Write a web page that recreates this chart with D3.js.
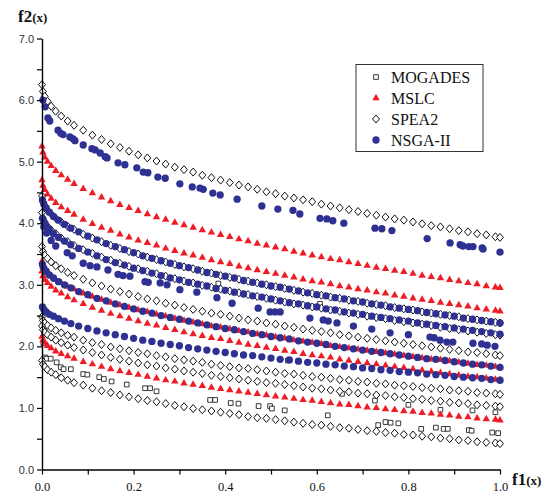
<!DOCTYPE html>
<html lang="en">
  <head>
    <meta charset="utf-8">
    <title>f1(x) - f2(x) fronts</title>
    <style>
      body { margin: 0; background: #fff; }
    </style>
  </head>
  <body>
    <div id="chart"></div>
  </body>
  <script src="https://d3js.org/d3.v7.min.js"></script>
  <script type="text/javascript">
    // legend order = drawing order
    var seriesNames = ["MOGADES", "MSLC", "SPEA2", "NSGA-II"];
    var xTicks = [0, 0.1, 0.2, 0.3, 0.4, 0.5, 0.6, 0.7, 0.8, 0.9, 1.0];
    var yTicks = [0, 0.5, 1, 1.5, 2, 2.5, 3, 3.5, 4, 4.5, 5, 5.5, 6, 6.5, 7];

    // f1 positions of the dense fronts (SPEA2, MSLC)
    var f1Grid = [0, 0.002, 0.006, 0.012, 0.02, 0.03, 0.042, 0.056, 0.07, 0.09,
      0.11, 0.13, 0.15, 0.17, 0.19, 0.21, 0.23, 0.25, 0.27, 0.29,
      0.31, 0.33, 0.35, 0.37, 0.39, 0.41, 0.43, 0.45, 0.47, 0.49,
      0.51, 0.53, 0.55, 0.57, 0.59, 0.61, 0.63, 0.65, 0.67, 0.69,
      0.71, 0.73, 0.75, 0.77, 0.79, 0.81, 0.83, 0.85, 0.87, 0.89,
      0.91, 0.93, 0.95, 0.97, 0.99, 1.0];
    // f1 positions of the dense NSGA-II fronts
    var nsgaGrid = [0.001, 0.004, 0.009, 0.016, 0.025, 0.036, 0.049, 0.063, 0.08, 0.10,
      0.12, 0.14, 0.16, 0.18, 0.20, 0.22, 0.24, 0.26, 0.28, 0.30,
      0.32, 0.34, 0.36, 0.38, 0.40, 0.42, 0.44, 0.46, 0.48, 0.50,
      0.52, 0.54, 0.56, 0.58, 0.60, 0.62, 0.64, 0.66, 0.68, 0.70,
      0.72, 0.74, 0.76, 0.78, 0.80, 0.82, 0.84, 0.86, 0.88, 0.90,
      0.92, 0.94, 0.96, 0.98, 1.0];

    // SPEA2 fronts: f2 at each f1Grid position
    var spea2F2 = [
      [6.25, 6.14, 6.06, 5.98, 5.90, 5.82, 5.74, 5.66, 5.59, 5.51, 5.43, 5.36, 5.29, 5.23, 5.17, 5.11, 5.06, 5.01, 4.96, 4.91, 4.87, 4.83, 4.78, 4.74, 4.70, 4.66, 4.62, 4.59, 4.55, 4.51, 4.48, 4.44, 4.41, 4.38, 4.35, 4.31, 4.28, 4.25, 4.22, 4.19, 4.16, 4.13, 4.10, 4.07, 4.05, 4.02, 3.99, 3.96, 3.94, 3.91, 3.88, 3.86, 3.83, 3.81, 3.78, 3.77],
      [4.44, 4.35, 4.28, 4.21, 4.15, 4.08, 4.02, 3.95, 3.90, 3.82, 3.76, 3.70, 3.64, 3.59, 3.54, 3.50, 3.45, 3.41, 3.37, 3.33, 3.29, 3.26, 3.22, 3.19, 3.15, 3.12, 3.09, 3.06, 3.03, 3.00, 2.97, 2.94, 2.91, 2.88, 2.86, 2.83, 2.80, 2.78, 2.75, 2.73, 2.70, 2.68, 2.66, 2.63, 2.61, 2.59, 2.56, 2.54, 2.52, 2.50, 2.48, 2.45, 2.43, 2.41, 2.39, 2.38],
      [4.17, 4.08, 4.02, 3.95, 3.89, 3.83, 3.76, 3.70, 3.64, 3.57, 3.51, 3.45, 3.40, 3.35, 3.30, 3.26, 3.22, 3.18, 3.14, 3.10, 3.06, 3.03, 2.99, 2.96, 2.93, 2.90, 2.87, 2.84, 2.81, 2.78, 2.75, 2.72, 2.69, 2.67, 2.64, 2.62, 2.59, 2.57, 2.54, 2.52, 2.49, 2.47, 2.45, 2.42, 2.40, 2.38, 2.36, 2.34, 2.31, 2.29, 2.27, 2.25, 2.23, 2.21, 2.19, 2.18],
      [3.62, 3.54, 3.48, 3.43, 3.37, 3.31, 3.26, 3.20, 3.15, 3.09, 3.03, 2.98, 2.93, 2.89, 2.85, 2.81, 2.77, 2.74, 2.70, 2.67, 2.63, 2.60, 2.57, 2.54, 2.52, 2.49, 2.46, 2.43, 2.41, 2.38, 2.36, 2.33, 2.31, 2.28, 2.26, 2.24, 2.22, 2.19, 2.17, 2.15, 2.13, 2.11, 2.09, 2.07, 2.05, 2.03, 2.01, 1.99, 1.97, 1.95, 1.93, 1.91, 1.90, 1.88, 1.86, 1.85],
      [2.48, 2.42, 2.38, 2.34, 2.30, 2.26, 2.22, 2.18, 2.15, 2.10, 2.06, 2.03, 1.99, 1.96, 1.93, 1.90, 1.88, 1.85, 1.83, 1.80, 1.78, 1.76, 1.74, 1.71, 1.69, 1.67, 1.65, 1.64, 1.62, 1.60, 1.58, 1.56, 1.55, 1.53, 1.51, 1.50, 1.48, 1.46, 1.45, 1.43, 1.42, 1.40, 1.39, 1.37, 1.36, 1.35, 1.33, 1.32, 1.31, 1.29, 1.28, 1.27, 1.25, 1.24, 1.23, 1.22],
      [2.33, 2.27, 2.23, 2.19, 2.15, 2.10, 2.06, 2.02, 1.98, 1.94, 1.90, 1.86, 1.82, 1.79, 1.76, 1.73, 1.70, 1.68, 1.65, 1.63, 1.60, 1.58, 1.56, 1.53, 1.51, 1.49, 1.47, 1.45, 1.43, 1.41, 1.40, 1.38, 1.36, 1.34, 1.32, 1.31, 1.29, 1.27, 1.26, 1.24, 1.23, 1.21, 1.20, 1.18, 1.17, 1.15, 1.14, 1.12, 1.11, 1.09, 1.08, 1.07, 1.05, 1.04, 1.03, 1.02],
      [1.77, 1.71, 1.67, 1.62, 1.58, 1.54, 1.49, 1.45, 1.41, 1.37, 1.32, 1.28, 1.25, 1.21, 1.18, 1.15, 1.12, 1.10, 1.07, 1.04, 1.02, 0.99, 0.97, 0.95, 0.93, 0.91, 0.89, 0.86, 0.84, 0.83, 0.81, 0.79, 0.77, 0.75, 0.73, 0.72, 0.70, 0.68, 0.67, 0.65, 0.63, 0.62, 0.60, 0.59, 0.57, 0.56, 0.54, 0.53, 0.51, 0.50, 0.48, 0.47, 0.45, 0.44, 0.43, 0.42]
    ];

    // MSLC fronts: f2 at each f1Grid position
    var mslcF2 = [
      [5.25, 5.15, 5.07, 5.00, 4.93, 4.85, 4.78, 4.71, 4.64, 4.56, 4.49, 4.42, 4.36, 4.30, 4.25, 4.20, 4.15, 4.10, 4.06, 4.01, 3.97, 3.93, 3.89, 3.85, 3.81, 3.78, 3.74, 3.71, 3.67, 3.64, 3.61, 3.58, 3.54, 3.51, 3.48, 3.45, 3.42, 3.40, 3.37, 3.34, 3.31, 3.28, 3.26, 3.23, 3.21, 3.18, 3.15, 3.13, 3.11, 3.08, 3.06, 3.03, 3.01, 2.98, 2.96, 2.95],
      [4.70, 4.61, 4.54, 4.47, 4.40, 4.33, 4.26, 4.20, 4.14, 4.06, 3.99, 3.93, 3.88, 3.82, 3.77, 3.72, 3.68, 3.64, 3.59, 3.55, 3.51, 3.48, 3.44, 3.40, 3.37, 3.34, 3.30, 3.27, 3.24, 3.21, 3.18, 3.15, 3.12, 3.09, 3.06, 3.04, 3.01, 2.98, 2.96, 2.93, 2.91, 2.88, 2.86, 2.83, 2.81, 2.78, 2.76, 2.74, 2.71, 2.69, 2.67, 2.65, 2.62, 2.60, 2.58, 2.57],
      [3.38, 3.30, 3.25, 3.19, 3.14, 3.08, 3.03, 2.97, 2.93, 2.86, 2.81, 2.76, 2.71, 2.67, 2.63, 2.59, 2.56, 2.52, 2.49, 2.45, 2.42, 2.39, 2.36, 2.33, 2.31, 2.28, 2.25, 2.23, 2.20, 2.18, 2.15, 2.13, 2.10, 2.08, 2.06, 2.04, 2.01, 1.99, 1.97, 1.95, 1.93, 1.91, 1.89, 1.87, 1.85, 1.83, 1.81, 1.79, 1.78, 1.76, 1.74, 1.72, 1.70, 1.69, 1.67, 1.66],
      [3.22, 3.14, 3.08, 3.03, 2.97, 2.91, 2.86, 2.80, 2.75, 2.69, 2.63, 2.58, 2.53, 2.49, 2.45, 2.41, 2.37, 2.34, 2.30, 2.27, 2.23, 2.20, 2.17, 2.14, 2.12, 2.09, 2.06, 2.03, 2.01, 1.98, 1.96, 1.93, 1.91, 1.88, 1.86, 1.84, 1.82, 1.79, 1.77, 1.75, 1.73, 1.71, 1.69, 1.67, 1.65, 1.63, 1.61, 1.59, 1.57, 1.55, 1.53, 1.51, 1.50, 1.48, 1.46, 1.45],
      [2.16, 2.10, 2.06, 2.01, 1.97, 1.92, 1.88, 1.84, 1.80, 1.75, 1.71, 1.67, 1.63, 1.60, 1.57, 1.54, 1.51, 1.48, 1.45, 1.43, 1.40, 1.38, 1.36, 1.33, 1.31, 1.29, 1.27, 1.25, 1.23, 1.21, 1.19, 1.17, 1.15, 1.13, 1.12, 1.10, 1.08, 1.06, 1.05, 1.03, 1.01, 1.00, 0.98, 0.97, 0.95, 0.94, 0.92, 0.91, 0.89, 0.88, 0.86, 0.85, 0.83, 0.82, 0.81, 0.80]
    ];

    // NSGA-II dense fronts: f2 at each nsgaGrid position
    var nsgaDenseF2 = [
      [4.38, 4.31, 4.25, 4.18, 4.11, 4.05, 3.98, 3.92, 3.86, 3.79, 3.73, 3.67, 3.62, 3.57, 3.52, 3.47, 3.43, 3.39, 3.35, 3.31, 3.28, 3.24, 3.20, 3.17, 3.14, 3.11, 3.07, 3.04, 3.01, 2.98, 2.96, 2.93, 2.90, 2.87, 2.84, 2.82, 2.79, 2.77, 2.74, 2.72, 2.69, 2.67, 2.64, 2.62, 2.60, 2.58, 2.55, 2.53, 2.51, 2.49, 2.46, 2.44, 2.42, 2.40, 2.38],
      [4.08, 4.02, 3.96, 3.90, 3.83, 3.77, 3.71, 3.65, 3.59, 3.53, 3.47, 3.41, 3.36, 3.32, 3.27, 3.23, 3.19, 3.15, 3.11, 3.08, 3.04, 3.01, 2.98, 2.94, 2.91, 2.88, 2.85, 2.82, 2.80, 2.77, 2.74, 2.71, 2.69, 2.66, 2.64, 2.61, 2.59, 2.56, 2.54, 2.52, 2.49, 2.47, 2.45, 2.43, 2.41, 2.38, 2.36, 2.34, 2.32, 2.30, 2.28, 2.26, 2.24, 2.22, 2.20],
      [3.33, 3.27, 3.22, 3.16, 3.11, 3.05, 3.00, 2.95, 2.89, 2.84, 2.78, 2.74, 2.69, 2.65, 2.61, 2.57, 2.54, 2.50, 2.47, 2.44, 2.41, 2.38, 2.35, 2.32, 2.29, 2.27, 2.24, 2.21, 2.19, 2.16, 2.14, 2.12, 2.09, 2.07, 2.05, 2.03, 2.00, 1.98, 1.96, 1.94, 1.92, 1.90, 1.88, 1.86, 1.84, 1.82, 1.80, 1.79, 1.77, 1.75, 1.73, 1.71, 1.70, 1.68, 1.66],
      [2.64, 2.60, 2.56, 2.52, 2.49, 2.45, 2.41, 2.37, 2.33, 2.29, 2.25, 2.22, 2.19, 2.16, 2.13, 2.10, 2.08, 2.05, 2.03, 2.01, 1.98, 1.96, 1.94, 1.92, 1.90, 1.88, 1.86, 1.85, 1.83, 1.81, 1.79, 1.78, 1.76, 1.74, 1.73, 1.71, 1.70, 1.68, 1.67, 1.65, 1.64, 1.62, 1.61, 1.59, 1.58, 1.57, 1.55, 1.54, 1.53, 1.51, 1.50, 1.49, 1.48, 1.46, 1.45]
    ];

    // NSGA-II sparse fronts: [f1, f2]
    var nsgaTop = [[0.002, 6.00], [0.007, 5.89], [0.013, 5.71], [0.017, 5.66], [0.035, 5.51], [0.041, 5.46],
      [0.046, 5.44], [0.061, 5.40], [0.068, 5.37], [0.072, 5.34], [0.090, 5.27], [0.109, 5.21], [0.116, 5.19],
      [0.127, 5.14], [0.138, 5.08], [0.142, 5.06], [0.166, 4.98], [0.181, 4.95], [0.207, 4.90], [0.221, 4.83],
      [0.231, 4.82], [0.253, 4.75], [0.269, 4.73], [0.301, 4.64], [0.328, 4.59], [0.345, 4.57], [0.352, 4.55],
      [0.373, 4.49], [0.389, 4.46], [0.426, 4.39], [0.480, 4.28], [0.515, 4.23], [0.548, 4.21], [0.563, 4.15],
      [0.607, 4.08], [0.622, 4.07], [0.635, 4.04], [0.659, 4.00], [0.727, 3.92], [0.742, 3.91], [0.764, 3.88],
      [0.841, 3.75], [0.891, 3.68], [0.913, 3.65], [0.919, 3.63], [0.932, 3.62], [0.941, 3.62], [0.961, 3.60],
      [0.963, 3.58], [1.0, 3.53]];
    var nsgaMid = [[0.004, 3.94], [0.010, 3.84], [0.020, 3.72], [0.030, 3.63], [0.055, 3.52], [0.066, 3.47],
      [0.090, 3.35], [0.105, 3.31], [0.120, 3.29], [0.144, 3.24], [0.166, 3.17], [0.177, 3.15], [0.192, 3.14],
      [0.225, 3.05], [0.232, 3.04], [0.258, 3.03], [0.273, 3.00], [0.301, 2.92], [0.338, 2.88], [0.382, 2.79],
      [0.415, 2.70], [0.472, 2.62], [0.498, 2.56], [0.509, 2.56], [0.520, 2.56], [0.585, 2.46], [0.614, 2.43],
      [0.625, 2.41], [0.644, 2.38], [0.680, 2.33], [0.720, 2.28], [0.760, 2.22], [0.800, 2.19], [0.847, 2.15],
      [0.856, 2.14], [0.869, 2.10], [0.884, 2.07], [0.897, 2.07], [0.941, 2.05], [0.960, 2.04], [0.972, 2.02],
      [0.989, 2.00]];

    // MOGADES points: [f1, f2]
    var mogadesPts = [[0.003, 2.05], [0.007, 1.82], [0.010, 1.80], [0.019, 1.80], [0.032, 1.74], [0.041, 1.66],
      [0.047, 1.63], [0.063, 1.63], [0.090, 1.55], [0.099, 1.54], [0.125, 1.50], [0.135, 1.47], [0.152, 1.43],
      [0.185, 1.38], [0.225, 1.32], [0.236, 1.32], [0.250, 1.27], [0.367, 1.13], [0.378, 1.13], [0.385, 3.02],
      [0.412, 1.08], [0.429, 1.07], [0.473, 1.03], [0.498, 1.03], [0.502, 0.99], [0.530, 0.96], [0.537, 1.77],
      [0.607, 2.69], [0.624, 0.88], [0.655, 1.23], [0.727, 1.12], [0.734, 0.72], [0.750, 0.77], [0.761, 0.76],
      [0.778, 0.75], [0.800, 1.05], [0.828, 0.66], [0.860, 0.68], [0.870, 0.97], [0.877, 0.66], [0.886, 0.66],
      [0.932, 0.64], [0.938, 0.63], [0.940, 0.96], [0.983, 0.60], [0.990, 0.93], [0.996, 0.59]];

    var width = 544;
    var height = 496;
    var svg = d3.select("#chart")
      .append("svg")
      .attr("width", width)
      .attr("height", height)
      .style("background", "#fff");

    var x = d3.scaleLinear().domain([0, 1]).range([42, 500]);
    var y = d3.scaleLinear().domain([0, 7]).range([469.5, 38.5]);

    function onGrid(grid, curves) {
      var pts = [];
      curves.forEach(function(c) {
        c.forEach(function(v, i) {
          if (i < grid.length) pts.push([grid[i], v]);
        });
      });
      return pts;
    }

    // open diamond as in Origin plots
    var diamondType = {
      draw: function(ctx, size) {
        var h = Math.sqrt(size) / 2;
        ctx.moveTo(0, -h * 1.15);
        ctx.lineTo(h, 0);
        ctx.lineTo(0, h * 1.15);
        ctx.lineTo(-h, 0);
        ctx.closePath();
      }
    };

    var styles = {
      "MOGADES": { type: d3.symbolSquare, size: 22, fill: "#fff", stroke: "#222", sw: 0.9 },
      "MSLC": { type: d3.symbolTriangle, size: 24, fill: "#ee1c25", stroke: "none", sw: 0 },
      "SPEA2": { type: diamondType, size: 48, fill: "#fff", stroke: "#111", sw: 1 },
      "NSGA-II": { type: d3.symbolCircle, size: 42, fill: "#2e3192", stroke: "none", sw: 0 }
    };

    var seriesData = {
      "MOGADES": mogadesPts,
      "MSLC": onGrid(f1Grid, mslcF2),
      "SPEA2": onGrid(f1Grid, spea2F2),
      "NSGA-II": onGrid(nsgaGrid, nsgaDenseF2).concat(nsgaTop, nsgaMid)
    };

    //点
    seriesNames.forEach(function(name) {
      var st = styles[name];
      svg.append("g")
        .selectAll("path")
        .data(seriesData[name])
        .enter()
        .append("path")
        .attr("transform", function(d) { return "translate(" + x(d[0]) + "," + y(d[1]) + ")"; })
        .attr("d", d3.symbol().type(st.type).size(st.size))
        .attr("fill", st.fill)
        .attr("stroke", st.stroke)
        .attr("stroke-width", st.sw);
    });

    //坐标轴
    var xAxis = d3.axisBottom(x)
      .tickValues(xTicks)
      .tickSize(5)
      .tickSizeOuter(0)
      .tickFormat(function(d, i) { return i % 2 === 0 ? d3.format(".1f")(d) : ""; });
    var gx = svg.append("g")
      .attr("transform", "translate(0," + y(0) + ")")
      .call(xAxis);
    gx.selectAll("text")
      .attr("font-family", "Liberation Serif")
      .attr("font-size", 12.5)
      .attr("fill", "#111")
      .attr("dy", "1.05em");

    var yAxis = d3.axisLeft(y)
      .tickValues(yTicks)
      .tickSize(5)
      .tickSizeOuter(0)
      .tickFormat(function(d) { return d % 1 === 0 ? d3.format(".1f")(d) : ""; });
    var gy = svg.append("g")
      .attr("transform", "translate(" + x(0) + ",0)")
      .call(yAxis);
    gy.selectAll("text")
      .attr("font-family", "Liberation Sans")
      .attr("font-size", 11)
      .attr("fill", "#333");

    svg.selectAll(".domain").attr("stroke", "#000").attr("stroke-width", 1.4);
    svg.selectAll(".tick line").attr("stroke", "#000").attr("stroke-width", 1.2);

    // axis titles
    var ty = svg.append("text")
      .attr("x", 18)
      .attr("y", 22)
      .attr("font-family", "Liberation Serif")
      .attr("font-weight", "bold")
      .attr("fill", "#111");
    ty.append("tspan").attr("font-size", 17).text("f2");
    ty.append("tspan").attr("font-size", 13).text("(x)");

    var tx = svg.append("text")
      .attr("x", 512)
      .attr("y", 485)
      .attr("font-family", "Liberation Serif")
      .attr("font-weight", "bold")
      .attr("fill", "#111");
    tx.append("tspan").attr("font-size", 17).text("f1");
    tx.append("tspan").attr("font-size", 13).text("(x)");

    // legend
    var gLegend = svg.append("g");
    gLegend.append("rect")
      .attr("x", 356)
      .attr("y", 64.5)
      .attr("width", 127)
      .attr("height", 87)
      .attr("fill", "#fff")
      .attr("stroke", "#333")
      .attr("stroke-width", 1);
    var rows = gLegend.selectAll("g.row")
      .data(seriesNames)
      .enter()
      .append("g")
      .attr("class", "row")
      .attr("transform", function(d, i) { return "translate(376," + (77 + i * 21) + ")"; });
    rows.append("path")
      .attr("d", function(d) { return d3.symbol().type(styles[d].type).size(styles[d].size)(); })
      .attr("fill", function(d) { return styles[d].fill; })
      .attr("stroke", function(d) { return styles[d].stroke; })
      .attr("stroke-width", function(d) { return styles[d].sw; });
    rows.append("text")
      .attr("x", 15)
      .attr("y", 5.5)
      .attr("font-family", "Liberation Serif")
      .attr("font-size", 16)
      .attr("fill", "#111")
      .text(function(d) { return d; });
  </script>
</html>
